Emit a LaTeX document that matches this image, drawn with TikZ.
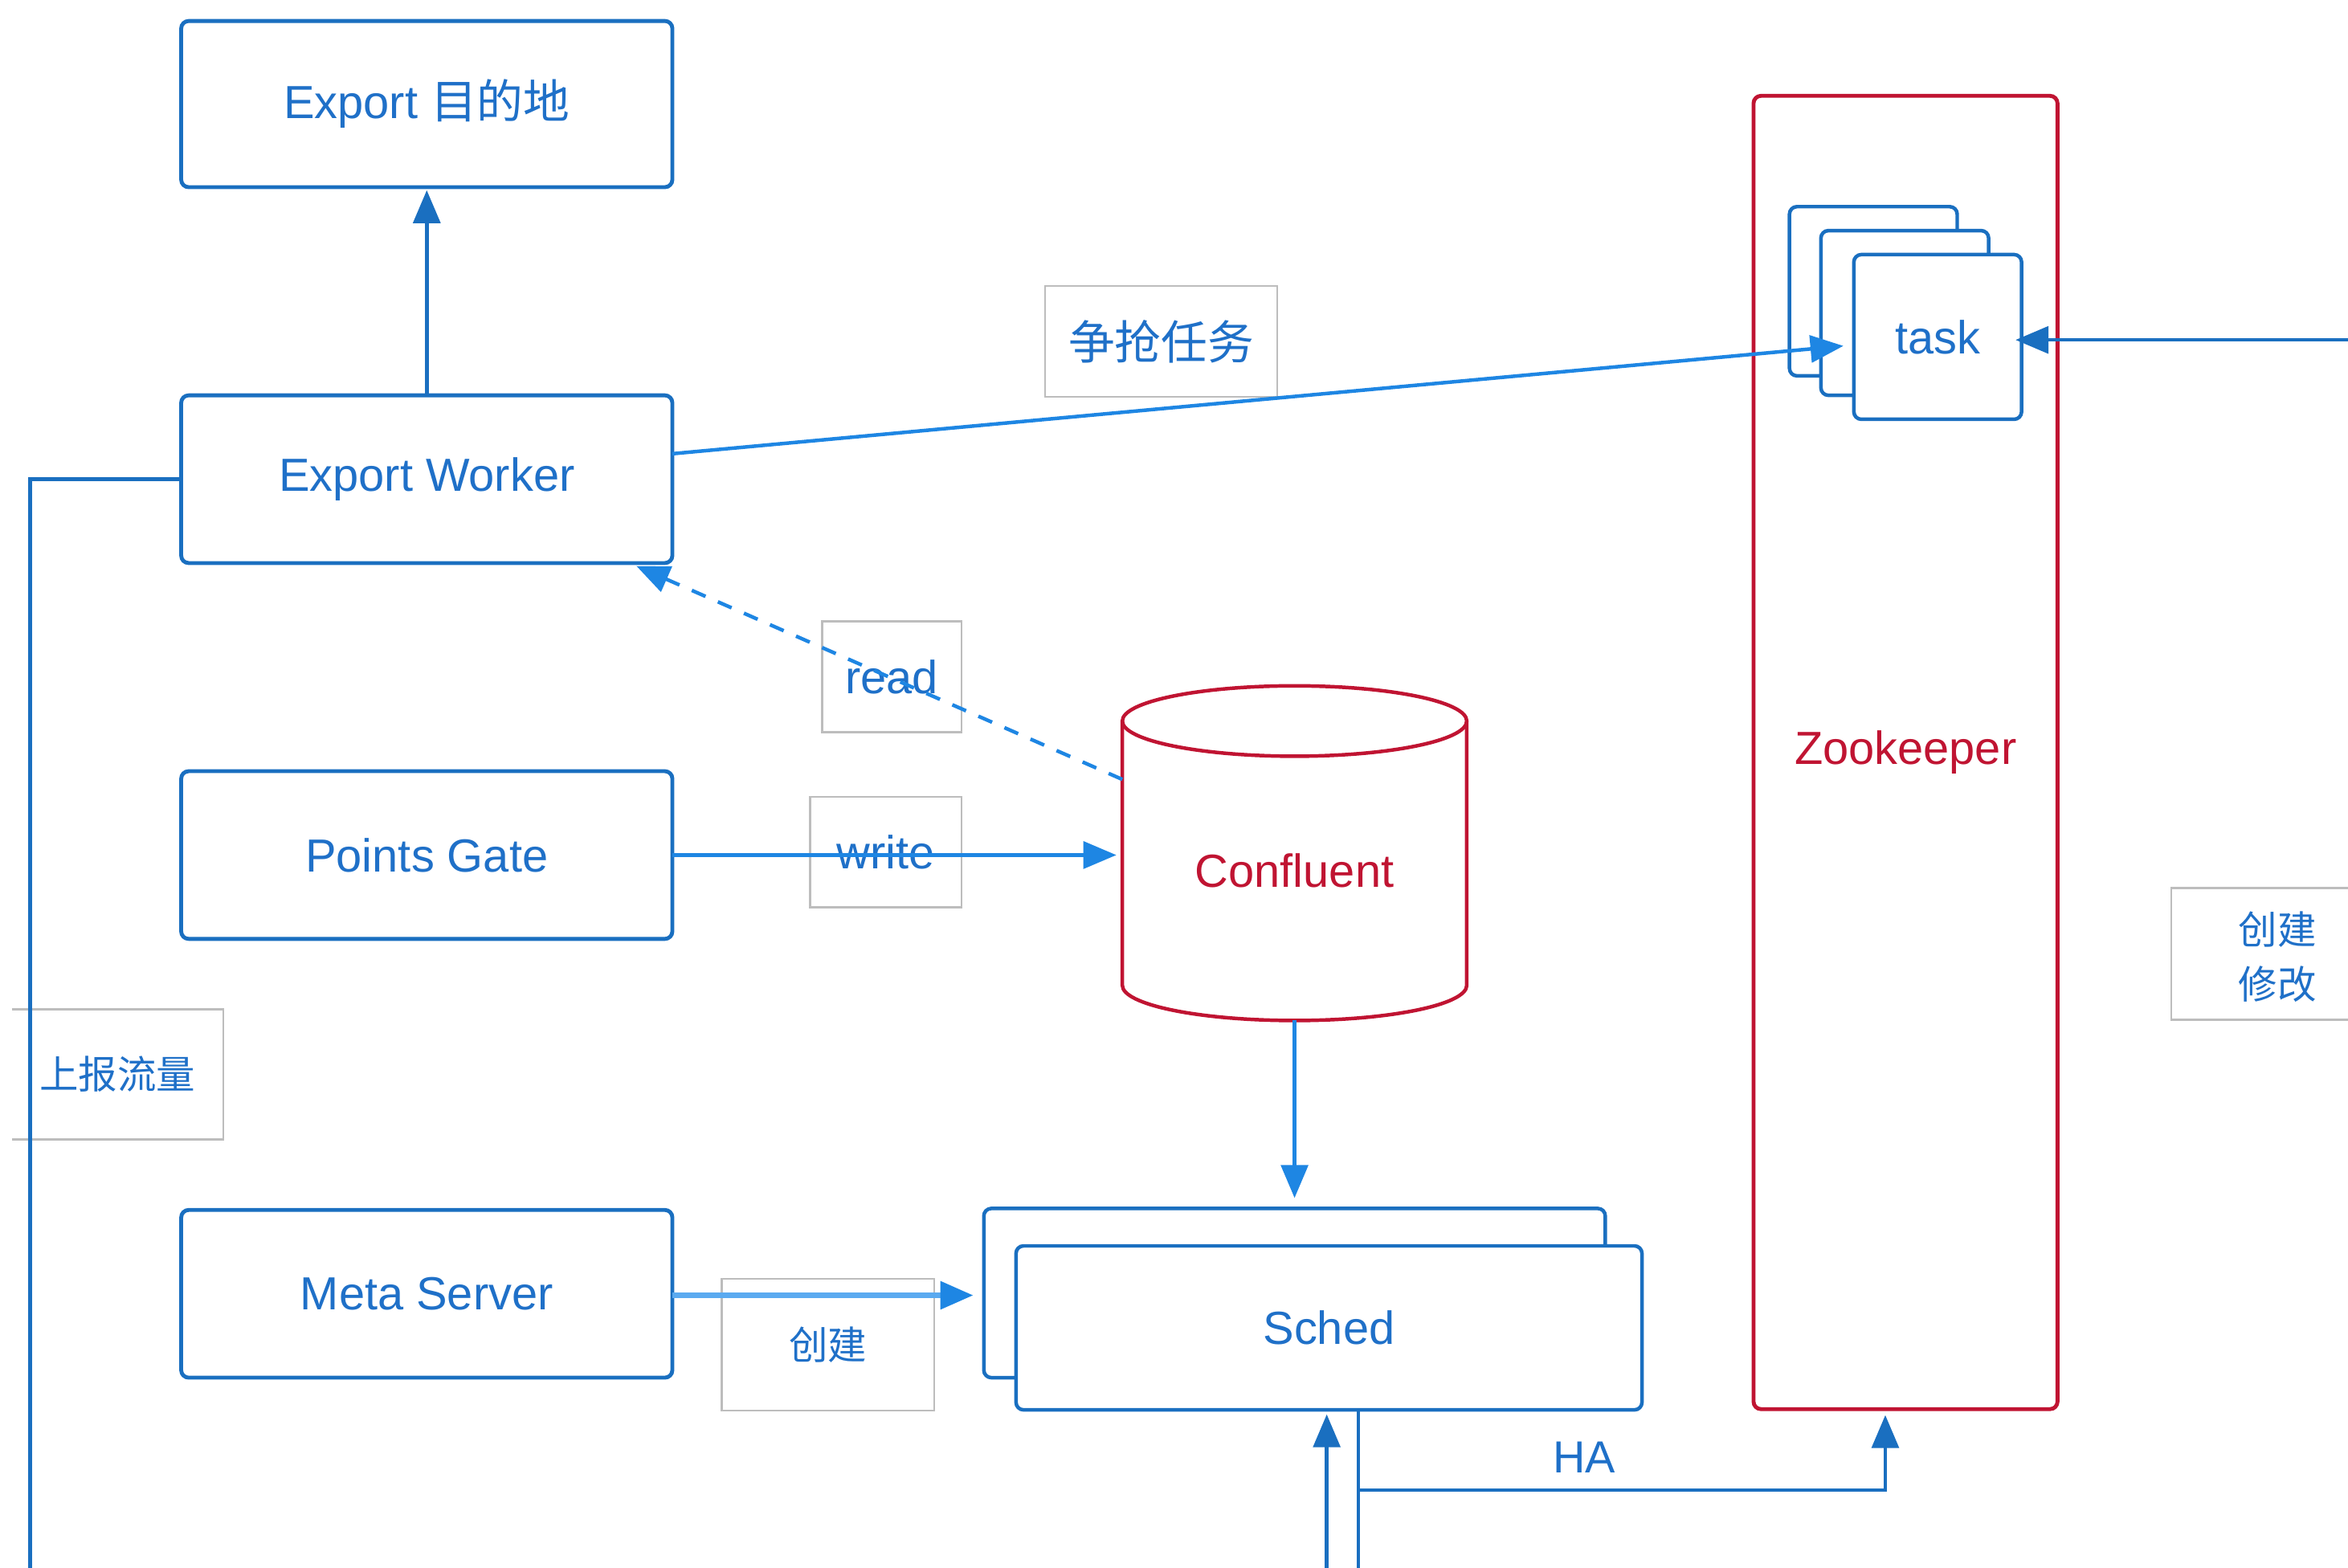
\documentclass[tikz,border=0pt]{standalone}
\usepackage{fontspec}
\setmainfont{Liberation Sans}
\newfontfamily\cjk{Noto Sans CJK SC}
\usetikzlibrary{arrows.meta}
\definecolor{bx}{HTML}{1A6FC0}
\definecolor{tx}{HTML}{1F70C8}
\definecolor{lb}{HTML}{1E86E3}
\definecolor{rd}{HTML}{C01432}
\definecolor{gl}{HTML}{BDBDBD}
\definecolor{ml}{HTML}{5AAAF0}
\begin{document}
\begin{tikzpicture}[x=1pt,y=-1pt,
  box/.style={draw=bx, line width=2.6pt, rounded corners=5pt, fill=white, inner sep=0pt, outer sep=0pt, text=tx, font=\fontsize{31}{36}\selectfont},
  lab/.style={draw=gl, line width=1.3pt, inner sep=0pt, outer sep=0pt, text=tx, font=\fontsize{31}{36}\selectfont},
  smalllab/.style={inner sep=0pt, outer sep=0pt, text=tx, font=\fontsize{26}{36}\selectfont, align=center},
  ln/.style={draw=bx, line width=2.4pt},
  lln/.style={draw=lb, line width=2.4pt},
  mln/.style={draw=ml, line width=4pt},
  tip/.style={-{Triangle[length=22pt,width=18pt]}},
]
\useasboundingbox (0,0) rectangle (1568,1047);

% label boxes
\node[lab, minimum width=155pt, minimum height=74pt] (l1) at (775.5,228) {\cjk 争抢任务};
\node[lab, minimum width=93pt, minimum height=74pt] (l2) at (595.5,452) {read};
\node[lab, minimum width=101pt, minimum height=74pt] (l3) at (591.5,569) {write};
\node[lab, minimum width=142pt, minimum height=88pt, font=\fontsize{26}{36}\selectfont] (l4) at (553,898) {\cjk 创建};
\node[smalllab, minimum width=141pt, minimum height=87pt] (l5) at (78.5,717.5) {\cjk 上报流量};
\draw[gl, line width=1.3pt] (l5.north west) -- (l5.north east) -- (l5.south east) -- (l5.south west);
\node[smalllab] (l6) at (1521,639) {\cjk 创建\\\cjk 修改};
\draw[gl, line width=1.3pt] (1568,593) -- (1450,593) -- (1450,681) -- (1568,681);

% main boxes
\node[box, minimum width=328pt, minimum height=111pt] (dest) at (285,69.5) {Export {\cjk 目的地}};
\node[box, minimum width=328pt, minimum height=112pt] (worker) at (285,320) {Export Worker};
\node[box, minimum width=328pt, minimum height=112pt] (gate) at (285,571) {Points Gate};
\node[box, minimum width=328pt, minimum height=112pt] (meta) at (285,864) {Meta Server};

% zookeeper and tasks
\node[box, draw=rd, text=rd, minimum width=203pt, minimum height=877pt] (zk) at (1272.5,502.5) {Zookeeper};
\node[box, line width=2.4pt, minimum width=112pt, minimum height=113pt] (taskc) at (1251,194.5) {};
\node[box, line width=2.4pt, minimum width=112pt, minimum height=110pt] (taskb) at (1272,209) {};
\node[box, line width=2.4pt, minimum width=112pt, minimum height=110pt] (task) at (1294,225) {task};

% sched
\node[box, line width=2.4pt, minimum width=415pt, minimum height=113pt] (sched2) at (864.5,863.5) {};
\node[box, line width=2.4pt, minimum width=418pt, minimum height=109.5pt] (sched) at (887.5,886.75) {Sched};

% confluent cylinder
\node[inner sep=0pt, outer sep=0pt, minimum width=230pt, minimum height=199.5pt, text=rd, font=\fontsize{31}{36}\selectfont] (conf) at (864.5,581.5) {Confluent};
\draw[rd, line width=2.4pt] (749.5,481.5) -- (749.5,658) arc[start angle=180, end angle=360, x radius=115pt, y radius=23.5pt] -- (979.5,481.5);
\draw[rd, line width=2.4pt] (864.5,481.5) ellipse [x radius=115pt, y radius=23.5pt];

% coordinates for free ends
\coordinate (lbot) at (20,1047);
\coordinate (rin) at (1568,227);
\coordinate (bin) at (886,1047);
\coordinate (hbot) at (907,1047);
\coordinate (hj) at (907,995);

% connectors
\draw[ln, tip, shorten >=2pt] (worker.north) -- (dest.south);
\draw[ln] (worker.west) -| (lbot);
\draw[lln, tip] ([yshift=17pt]worker.east) -- ([xshift=-7pt,yshift=-6pt]task.west);
\draw[ln, tip, shorten >=-4pt] (rin) -- (rin -| task.east);
\draw[lln, tip, dash pattern=on 10pt off 9pt] ([yshift=61pt]conf.west) -- ([xshift=-24pt,yshift=-2pt]worker.south east);
\draw[lln, tip, shorten >=4pt] (gate.east) -- (gate.east -| conf.west);
\draw[lln, tip, shorten >=7pt] (conf.south) -- (sched2.north);
\draw[mln, -{Triangle[length=22pt,width=18pt,color=lb]}, shorten >=7pt] ([yshift=-1pt]meta.east) -- ([yshift=-1pt]meta.east -| sched2.west);
\draw[ln, tip, shorten >=3pt] (bin) -- (bin |- sched.south);
\draw[ln] (sched.south -| hbot) -- (hbot);
\draw[ln, tip, shorten >=4pt] (hj) -| ([xshift=-13.5pt]zk.south);
\node[text=tx, font=\fontsize{30}{36}\selectfont, inner sep=0pt] (ha) at (1058,973) {HA};
\end{tikzpicture}
\end{document}
